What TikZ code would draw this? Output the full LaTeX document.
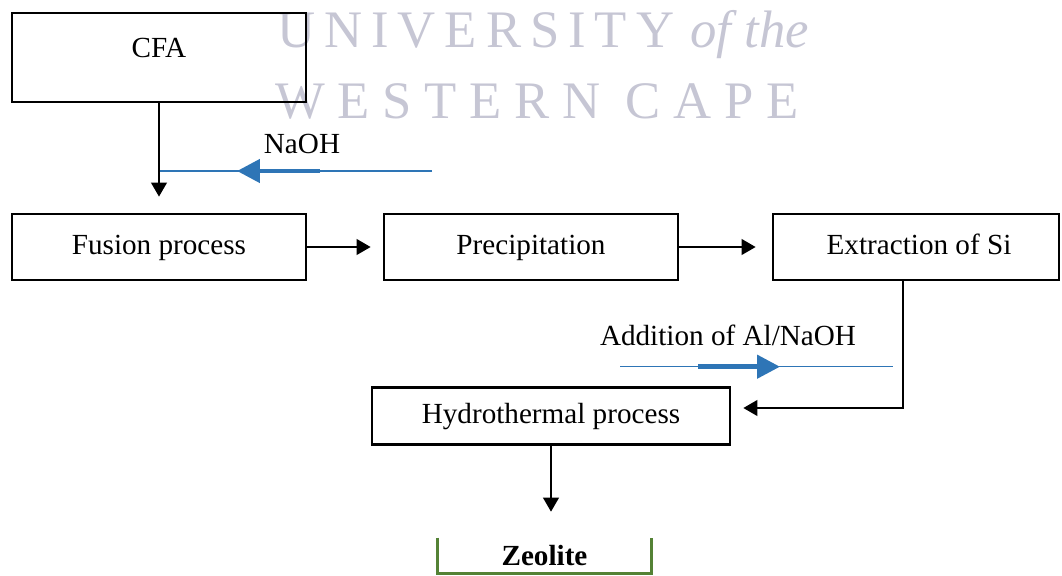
\documentclass[tikz,border=0pt]{standalone}
\usepackage{fontspec}
\setmainfont{Liberation Serif}
\newfontfamily\wmfont[LetterSpace=17]{Liberation Serif}
\newfontfamily\wmwidefont[LetterSpace=24]{Liberation Serif}
\usetikzlibrary{arrows.meta,positioning,calc}
\definecolor{flowblue}{RGB}{46,117,182}
\definecolor{zeogreen}{RGB}{84,130,53}
\definecolor{wmgray}{RGB}{198,198,212}

\begin{document}
\begin{tikzpicture}[x=0.02cm, y=-0.02cm,
    stepbox/.style={rectangle, draw, line width=1.6pt, inner sep=0pt, text height=11.5pt, text depth=3.5pt, font=\fontsize{16.6}{20}\selectfont},
    flow/.style={-{Triangle[length=8pt,width=9pt]}, line width=1pt},
    feed/.style={draw=flowblue, line width=0.8pt},
    feedhead/.style={flowblue, line width=2.6pt, -{Triangle[length=13pt,width=13pt]}},
    lbl/.style={font=\fontsize{16.6}{20}\selectfont},
    wm/.style={wmgray, anchor=base west, inner sep=0pt}
]
    \useasboundingbox (0,0) rectangle (1062,575);

    % Watermark
    \node[wm, font=\fontsize{30}{30}\wmfont] (wmuni) at (277,47) {UNIVERSITY};
    \node[wm, font=\fontsize{30}{30}\selectfont\itshape] (wmof) at (690,47) {of the};
    \node[wm, font=\fontsize{30}{30}\wmwidefont] (wmcape) at (275,118) {WESTERN CAPE};

    % Process boxes
    \node[stepbox, minimum width=5.88cm, text height=0.88cm, text depth=0.9cm] (cfa) at (159,57.5) {CFA};
    \node[stepbox, minimum width=5.88cm, minimum height=1.32cm] (fusion) at (159,247) {Fusion process};
    \node[stepbox, minimum width=5.88cm, minimum height=1.32cm] (precip) at (531,247) {Precipitation};
    \node[stepbox, minimum width=5.72cm, minimum height=1.32cm] (extr) at (916,247) {\hspace{0.12cm}Extraction of Si};
    \node[stepbox, minimum width=7.16cm, minimum height=1.14cm] (hydro) at (551,416) {Hydrothermal process};
    \node[font=\bfseries\fontsize{16.6}{20}\selectfont, minimum width=4.26cm, minimum height=0.7cm, inner sep=0pt] (zeo) at (544.5,555.5) {Zeolite};
    \draw[zeogreen, line width=1.7pt] (zeo.north west) |- (zeo.south) -| (zeo.north east);

    % Reagent labels
    \node[lbl, anchor=base, inner sep=0pt] (naoh) at (302,153) {NaOH};
    \node[lbl, anchor=base, inner sep=0pt] (addal) at (728,345) {Addition of Al/NaOH};

    % NaOH feed
    \coordinate (naohin) at (432,171);
    \coordinate (naohthick) at (320,171);
    \coordinate (naohtip) at (237,171);
    \draw[feed] (naohin) -- (naohin -| cfa.south);
    \draw[feedhead] (naohthick) -- (naohtip);

    % Al/NaOH feed
    \coordinate (alin) at (620,366.7);
    \coordinate (alout) at (893,366.7);
    \coordinate (althick) at (698,366.7);
    \coordinate (altip) at (780,366.7);
    \draw[feed] (alin) -- (alout);
    \draw[feedhead] (althick) -- (altip);

    % Main flow
    \draw[flow, shorten >=0.32cm] (cfa.south) -- (cfa.south |- fusion.north);
    \draw[flow, shorten >=0.24cm] (fusion.east) -- (precip.west);
    \draw[flow, shorten >=0.32cm] (precip.east) -- (extr.west);
    \coordinate (turn) at (903,408);
    \draw[flow, shorten >=0.24cm] (extr.south -| turn) -- (turn) -- (turn -| hydro.east);
    \draw[flow, shorten >=0.52cm] (hydro.south) -- (hydro.south |- zeo.north);
\end{tikzpicture}
\end{document}
